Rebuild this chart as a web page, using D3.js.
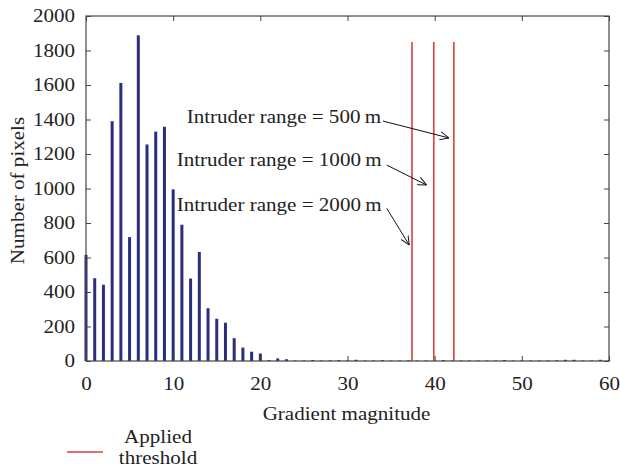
<!DOCTYPE html>
<html>
<head>
<meta charset="utf-8">
<script src="https://cdn.jsdelivr.net/npm/d3@7"></script>
<style>
  html, body { margin: 0; padding: 0; background: #fff; }
  svg { display: block; }
  text { font-family: "Liberation Serif", "Times New Roman", serif; fill: #222; }
</style>
</head>
<body>
<svg id="chart" width="620" height="471"></svg>
<script>
// ---- data ----
const gradient = d3.range(0, 61);
const pixelCounts = [
  615, 480, 442, 1390, 1612, 718, 1888, 1255, 1330, 1358,
  995, 790, 478, 632, 306, 245, 222, 132, 78, 54,
  43, 5, 15, 10, 3, 3, 6, 3, 4, 5,
  3, 7, 3, 3, 5, 3, 3, 4, 3, 3,
  3, 5, 3, 3, 3, 3, 3, 3, 6, 3,
  3, 3, 3, 3, 4, 7, 7, 3, 3, 7, 3
];
const thresholds = [37.4, 39.9, 42.2];
const thresholdHeight = 1850;
const annotationLabels = ["Intruder range = 500\u2009m", "Intruder range = 1000\u2009m", "Intruder range = 2000\u2009m"];
const xTicks = [0, 10, 20, 30, 40, 50, 60];
const yTicks = [0, 200, 400, 600, 800, 1000, 1200, 1400, 1600, 1800, 2000];
const xLabel = "Gradient magnitude";
const yLabel = "Number of pixels";
const legendLines = ["Applied", "threshold"];

// annotation placement (data units)
const annotationText = [[11.55, 1414], [10.4, 1165], [10.4, 904]];
const annotationArrowFrom = [[34.07, 1391], [34.5, 1136], [34.5, 885]];
const annotationArrowTo = [[41.64, 1293], [39.08, 1020], [37.09, 672]];

// ---- layout ----
const L = 86, R = 609, T = 16, B = 361;
const FS = 18, SX = 1.17;
const svg = d3.select("#chart");
const x = d3.scaleLinear().domain([0, 60]).range([L, R]);
const y = d3.scaleLinear().domain([0, 2000]).range([B, T]);

const barColor = "#2b2e7c";
const redColor = "#d6423c";

// bars
svg.append("g").selectAll("rect").data(gradient).join("rect")
  .attr("x", d => x(d) - 1.5)
  .attr("width", 3)
  .attr("y", (d, i) => y(pixelCounts[i]))
  .attr("height", (d, i) => B - y(pixelCounts[i]))
  .attr("fill", barColor);

// threshold lines
svg.append("g").selectAll("line").data(thresholds).join("line")
  .attr("x1", d => x(d)).attr("x2", d => x(d))
  .attr("y1", y(0)).attr("y2", y(thresholdHeight))
  .attr("stroke", redColor).attr("stroke-width", 1.6);

// frame
svg.append("rect").attr("x", L).attr("y", T).attr("width", R - L).attr("height", B - T)
  .attr("fill", "none").attr("stroke", "#444").attr("stroke-width", 1.2);

// axes
const fmt = d3.format("d");
const axB = svg.append("g").attr("transform", `translate(0,${B})`)
  .call(d3.axisBottom(x).tickValues(xTicks).tickFormat(fmt).tickSizeInner(-5).tickSizeOuter(0).tickPadding(16));
const axT = svg.append("g").attr("transform", `translate(0,${T})`)
  .call(d3.axisTop(x).tickValues(xTicks).tickSizeInner(-5).tickSizeOuter(0).tickFormat(""));
const axL = svg.append("g").attr("transform", `translate(${L},0)`)
  .call(d3.axisLeft(y).tickValues(yTicks).tickFormat(fmt).tickSizeInner(-5).tickSizeOuter(0).tickPadding(11));
const axR = svg.append("g").attr("transform", `translate(${R},0)`)
  .call(d3.axisRight(y).tickValues(yTicks).tickSizeInner(-5).tickSizeOuter(0).tickFormat(""));
[axB, axT, axL, axR].forEach(a => {
  a.select(".domain").remove();
  a.selectAll(".tick line").attr("stroke", "#444");
  a.selectAll("text").attr("font-size", FS).attr("font-family", "Liberation Serif").attr("fill", "#222");
});
axB.selectAll(".tick text").attr("transform", `scale(${SX},1)`);
axL.selectAll(".tick text").attr("x", -11 / SX).attr("transform", `scale(${SX},1)`);

// axis labels
svg.append("text").attr("transform", `translate(${(L + R) / 2 - 1},420) scale(${SX},1)`)
  .attr("text-anchor", "middle").attr("font-size", FS).text(xLabel);
svg.append("text").attr("transform", `translate(24,${(T + B) / 2 + 2}) rotate(-90) scale(${SX},1)`)
  .attr("text-anchor", "middle").attr("font-size", FS).text(yLabel);

// arrows
const defs = svg.append("defs");
defs.append("marker").attr("id", "arr").attr("viewBox", "0 0 10 10")
  .attr("refX", 10).attr("refY", 5).attr("markerWidth", 9).attr("markerHeight", 9)
  .attr("markerUnits", "userSpaceOnUse").attr("orient", "auto")
  .append("path").attr("d", "M0,0.5 L10,5 L0,9.5").attr("fill", "none").attr("stroke", "#111").attr("stroke-width", 1.1);

svg.append("g").selectAll("line").data(annotationLabels).join("line")
  .attr("x1", (d, i) => x(annotationArrowFrom[i][0])).attr("y1", (d, i) => y(annotationArrowFrom[i][1]))
  .attr("x2", (d, i) => x(annotationArrowTo[i][0])).attr("y2", (d, i) => y(annotationArrowTo[i][1]))
  .attr("stroke", "#111").attr("stroke-width", 1).attr("marker-end", "url(#arr)");

svg.append("g").selectAll("text").data(annotationLabels).join("text")
  .attr("transform", (d, i) => `translate(${x(annotationText[i][0])},${y(annotationText[i][1])}) scale(${SX},1)`)
  .attr("dy", "0.33em").attr("font-size", FS).text(d => d);

// legend
svg.append("line").attr("x1", 67).attr("x2", 103).attr("y1", 452).attr("y2", 452)
  .attr("stroke", redColor).attr("stroke-width", 1.3);
svg.append("g").selectAll("text").data(legendLines).join("text")
  .attr("transform", (d, i) => `translate(158,${443 + i * 21}) scale(${SX},1)`)
  .attr("text-anchor", "middle").attr("font-size", FS).text(d => d);
</script>
</body>
</html>
